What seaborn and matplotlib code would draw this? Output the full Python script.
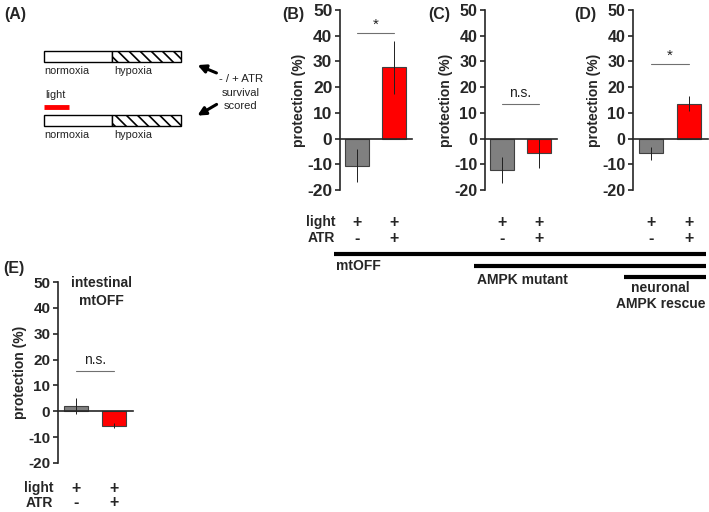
import matplotlib
matplotlib.use("Agg")
import matplotlib.pyplot as plt
from matplotlib.patches import Rectangle, FancyArrowPatch
from matplotlib.lines import Line2D
import seaborn as sns
import pandas as pd

# data (protection %, mean and error)
conditions = ["-ATR", "+ATR"]
bar_colors = ["#808080", "#ff0000"]

b_mean = [-10.5, 27.7]
b_err = [6.5, 10.2]
c_mean = [-12.3, -5.8]
c_err = [5.0, 5.5]
d_mean = [-5.7, 13.6]
d_err = [2.5, 3.0]
e_mean = [2.0, -5.5]
e_err = [3.0, 1.0]

sig_labels = {"B": "*", "C": "n.s.", "D": "*", "E": "n.s."}
sig_levels = {"B": 41, "C": 13.5, "D": 29, "E": 15.5}

y_ticks = [-20, -10, 0, 10, 20, 30, 40, 50]
light_row = ["+", "+"]
atr_row = ["-", "+"]

sns.set_style("ticks")
plt.rcParams["font.family"] = ["Liberation Sans", "DejaVu Sans"]
plt.rcParams["hatch.linewidth"] = 1.2

W, H = 709, 512
fig = plt.figure(figsize=(W / 100, H / 100), dpi=100)


def fx(x):
    return x / W


def fy(y):
    return 1 - y / H


def panel(key, means, errs, left, right, top, bottom, tick_size=11.5,
          row_offsets=(32, 48), row_names=False):
    ax = fig.add_axes([fx(left), fy(bottom), fx(right - left), (bottom - top) / H])
    df = pd.DataFrame({"cond": conditions, "val": means})
    sns.barplot(data=df, x="cond", y="val", hue="cond", palette=bar_colors,
                saturation=1, errorbar=None, width=0.65, edgecolor="#404040",
                linewidth=0.8, legend=False, ax=ax)
    ax.errorbar(range(len(means)), means, yerr=errs, fmt="none",
                ecolor="#202020", elinewidth=0.7, capsize=0)
    ax.set_xlim(-0.47, 1.5)
    ax.set_ylim(-20, 50)
    ax.set_yticks(y_ticks)
    ax.set_yticklabels([str(t) for t in y_ticks], fontweight="bold", fontsize=tick_size)
    ax.spines["top"].set_visible(False)
    ax.spines["right"].set_visible(False)
    ax.spines["bottom"].set_position(("data", 0))
    ax.spines["left"].set_linewidth(1.2)
    ax.spines["bottom"].set_linewidth(1.2)
    ax.tick_params(axis="x", length=0, labelbottom=False)
    ax.tick_params(axis="y", length=3.5, width=1.2, pad=2)
    ax.set_xlabel("")
    ax.set_ylabel("protection (%)", fontweight="bold", fontsize=10, labelpad=1)
    ax.patch.set_alpha(0)

    # significance bracket
    lvl = sig_levels[key]
    ax.plot([0, 1], [lvl, lvl], color="#707070", lw=0.8)
    star = sig_labels[key] == "*"
    ax.text(0.5, lvl + (0.5 if star else 1.5), sig_labels[key], ha="center", va="bottom",
            fontsize=11 if star else 10, color="#202020")

    # light / ATR rows under the bars
    trans = ax.get_xaxis_transform()
    h = (bottom - top)
    y1 = -(row_offsets[0] / h)
    y2 = -(row_offsets[1] / h)
    for i in range(2):
        ax.text(i, y1, light_row[i], transform=trans, ha="center", va="center",
                fontsize=11.5, fontweight="bold")
        ax.text(i, y2, atr_row[i], transform=trans, ha="center", va="center",
                fontsize=11.5, fontweight="bold")
    if row_names:
        ax.text(-0.6, y1, "light", transform=trans, ha="right", va="center",
                fontsize=10, fontweight="bold")
        ax.text(-0.6, y2, "ATR", transform=trans, ha="right", va="center",
                fontsize=10, fontweight="bold")
    return ax


axB = panel("B", b_mean, b_err, 340, 412, 10, 190, tick_size=12.5, row_names=True)
axC = panel("C", c_mean, c_err, 485, 557, 10, 190)
axD = panel("D", d_mean, d_err, 633, 708, 10, 190)
axE = panel("E", e_mean, e_err, 58, 133, 282, 463, tick_size=11,
            row_offsets=(25, 40), row_names=True)

# panel letters
for lab, x, y in [("(A)", 4, 14), ("(B)", 282, 14), ("(C)", 428, 14), ("(D)", 574, 14), ("(E)", 3, 268)]:
    fig.text(fx(x), fy(y), lab, fontsize=11.5, fontweight="bold", va="center", ha="left")

fig.text(fx(101), fy(283), "intestinal", fontsize=10, fontweight="bold", ha="center", va="center")
fig.text(fx(101), fy(301), "mtOFF", fontsize=10, fontweight="bold", ha="center", va="center")

# strain bars below B-D
for x0, y in [(334, 254), (474, 266), (624, 277)]:
    fig.add_artist(Line2D([fx(x0), fx(706)], [fy(y), fy(y)], color="black", lw=3,
                          solid_capstyle="butt"))
fig.text(fx(336), fy(266), "mtOFF", fontsize=10, fontweight="bold", ha="left", va="center")
fig.text(fx(477), fy(280), "AMPK mutant", fontsize=10, fontweight="bold", ha="left", va="center")
fig.text(fx(660), fy(288), "neuronal", fontsize=10, fontweight="bold", ha="center", va="center")
fig.text(fx(705), fy(304), "AMPK rescue", fontsize=10, fontweight="bold", ha="right", va="center")

# panel A schematic (pixel coordinates)
axA = fig.add_axes([0, fy(170), fx(270), 170 / H])
axA.set_xlim(0, 270)
axA.set_ylim(170, 0)
axA.axis("off")
for y0 in [51, 115]:
    axA.add_patch(Rectangle((44, y0), 68, 11, facecolor="white", edgecolor="black", lw=1))
    axA.add_patch(Rectangle((112, y0), 69, 11, facecolor="white", edgecolor="black",
                            hatch="\\\\\\", lw=1))
    axA.text(44, y0 + 20, "normoxia", fontsize=7.8, ha="left", va="center", color="#222222")
    axA.text(114, y0 + 20, "hypoxia", fontsize=7.8, ha="left", va="center", color="#222222")
axA.text(45, 95, "light", fontsize=7.8, ha="left", va="center", color="#222222")
axA.plot([44, 69], [107, 107], color="#ff0000", lw=3.5, solid_capstyle="butt")
axA.add_patch(FancyArrowPatch((219, 74), (195, 64), arrowstyle="-|>", mutation_scale=12,
                              color="black", lw=2.2))
axA.add_patch(FancyArrowPatch((219, 103), (195, 117), arrowstyle="-|>", mutation_scale=12,
                              color="black", lw=2.2))
axA.text(263, 79, "- / + ATR", fontsize=8.2, ha="right", va="center", color="#222222")
axA.text(241, 93, "survival", fontsize=8, ha="center", va="center", color="#222222")
axA.text(241, 106, "scored", fontsize=8, ha="center", va="center", color="#222222")

fig.savefig("out.png", dpi=100)
